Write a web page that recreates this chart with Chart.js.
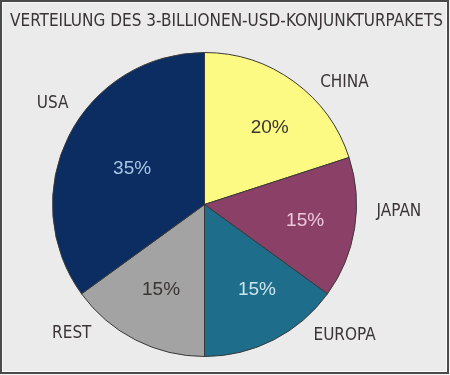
<!DOCTYPE html>
<html>
<head>
<meta charset="utf-8">
<script src="https://cdn.jsdelivr.net/npm/chart.js@4"></script>
<style>
  html, body { margin: 0; padding: 0; background: #ececec; }
  #wrap { width: 450px; height: 375px; position: relative; }
</style>
</head>
<body>
<div id="wrap"><canvas id="c" width="450" height="375"></canvas></div>
<script>
// ---- data ----
const titleText = 'VERTEILUNG DES 3-BILLIONEN-USD-KONJUNKTURPAKETS';
const categories = ['CHINA', 'JAPAN', 'EUROPA', 'REST', 'USA'];
const shares = [20, 15, 15, 15, 35];

// ---- styles ----
const sliceColors = ['#fdfa84', '#8b4068', '#1e6d8a', '#a3a3a3', '#0b2d62'];
const pctColors = ['#3a3434', '#ecc8dc', '#cce4ee', '#3a3434', '#a9c4e4'];
const innerPlace = [ {da: 4.5, f: 0.66}, {da: 0, f: 0.67}, {da: -4.5, f: 0.66}, {da: 0, f: 0.63}, {da: -1, f: 0.53} ];
const outerPlace = [ {da: 13, f: 1.22}, {da: -7, f: 1.28}, {da: -20, f: 1.26}, {da: 18.7, f: 1.22}, {da: 6.6, f: 1.20} ];
const textDark = '#3a3436';
const narrowFont = '"Liberation Sans Narrow", "DejaVu Sans Condensed", "Liberation Sans", sans-serif';
const pctFont = '"Liberation Sans", Arial, sans-serif';

const framePlugin = {
  id: 'frame',
  beforeDraw(chart) {
    const ctx = chart.ctx, w = chart.width, h = chart.height;
    ctx.save();
    ctx.fillStyle = '#f2f2f2';
    ctx.fillRect(0, 0, w, h);
    ctx.fillStyle = '#4a4a4a';
    ctx.fillRect(0, 0, w - 1, h - 1);
    ctx.fillStyle = '#fafafa';
    ctx.fillRect(2, 2, w - 5, h - 5);
    ctx.fillStyle = '#ebebeb';
    ctx.fillRect(3, 3, w - 7, h - 7);
    ctx.restore();
  },
  afterDraw(chart) {
    const ctx = chart.ctx;
    ctx.save();
    ctx.fillStyle = textDark;
    ctx.font = '18px ' + narrowFont;
    ctx.textBaseline = 'middle';
    ctx.textAlign = 'left';
    ctx.fillText(titleText, 10, 21, 433);
    ctx.restore();
  }
};

const labelPlugin = {
  id: 'sliceLabels',
  afterDatasetsDraw(chart) {
    const ctx = chart.ctx;
    const meta = chart.getDatasetMeta(0);
    ctx.save();
    ctx.textAlign = 'center';
    ctx.textBaseline = 'middle';
    meta.data.forEach((arc, i) => {
      const p = arc.getProps(['x', 'y', 'startAngle', 'endAngle', 'outerRadius'], true);
      const mid = (p.startAngle + p.endAngle) / 2;
      const value = chart.data.datasets[0].data[i];
      // inner percentage
      const ai = mid + innerPlace[i].da * Math.PI / 180;
      ctx.font = '19px ' + pctFont;
      ctx.fillStyle = pctColors[i];
      ctx.fillText(value + '%', p.x + Math.cos(ai) * p.outerRadius * innerPlace[i].f,
                   p.y + Math.sin(ai) * p.outerRadius * innerPlace[i].f);
      // outer category label
      const ao = mid + outerPlace[i].da * Math.PI / 180;
      ctx.font = '17px ' + narrowFont;
      ctx.fillStyle = textDark;
      ctx.fillText(chart.data.labels[i], p.x + Math.cos(ao) * p.outerRadius * outerPlace[i].f,
                   p.y + Math.sin(ao) * p.outerRadius * outerPlace[i].f);
    });
    ctx.restore();
  }
};

new Chart(document.getElementById('c'), {
  type: 'pie',
  data: {
    labels: categories,
    datasets: [{
      data: shares,
      backgroundColor: sliceColors,
      borderColor: '#3a3a3a',
      borderWidth: 1
    }]
  },
  options: {
    responsive: false,
    animation: false,
    layout: { padding: { left: 52, top: 52, right: 93, bottom: 18 } },
    plugins: {
      legend: { display: false },
      tooltip: { enabled: false },
      title: { display: false }
    }
  },
  plugins: [framePlugin, labelPlugin]
});
</script>
</body>
</html>
